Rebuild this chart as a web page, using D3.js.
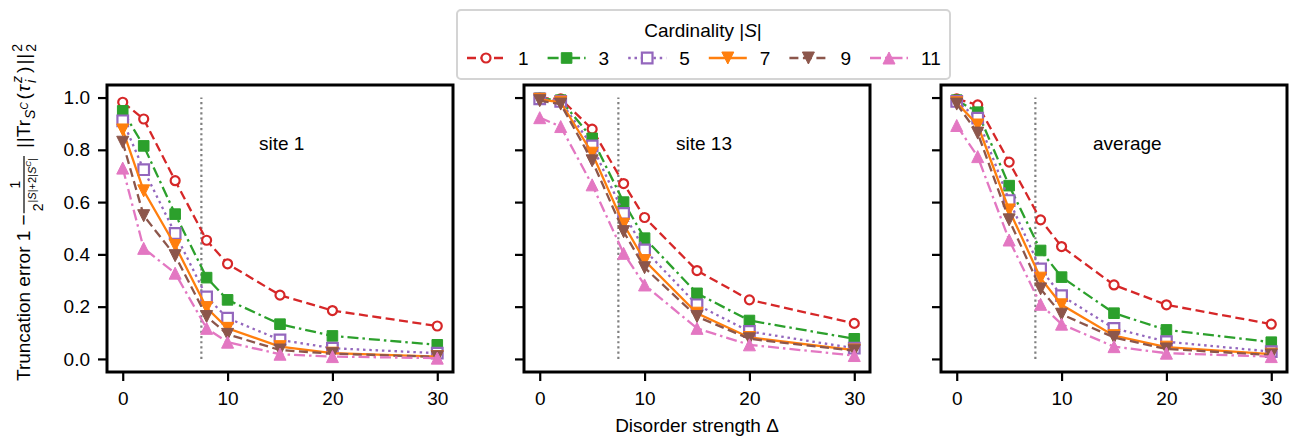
<!DOCTYPE html>
<html>
<head>
<meta charset="utf-8">
<script src="https://cdnjs.cloudflare.com/ajax/libs/d3/7.8.5/d3.min.js"></script>
<style>
    body { margin: 0; background: #fff; }
    svg text { font-family: "Liberation Sans", Arial, Helvetica, sans-serif; fill: #000; }
</style>
</head>
<body>
<div id="chart"></div>
<script>

// ---- data ----
const deltas = [0, 2, 5, 8, 10, 15, 20, 30];
const cardinalities = [1, 3, 5, 7, 9, 11];
const panelNames = ["site 1", "site 13", "average"];
const xTickValues = [0, 10, 20, 30];
const yTickValues = [0.0, 0.2, 0.4, 0.6, 0.8, 1.0];
const cutoffDelta = 7.5;

// one row per cardinality, one column per delta
const site1Errors = [
    [0.982, 0.918, 0.682, 0.454, 0.364, 0.244, 0.185, 0.126],
    [0.949, 0.815, 0.554, 0.311, 0.226, 0.133, 0.088, 0.054],
    [0.911, 0.724, 0.480, 0.237, 0.156, 0.073, 0.041, 0.022],
    [0.876, 0.643, 0.434, 0.196, 0.117, 0.047, 0.022, 0.009],
    [0.829, 0.548, 0.395, 0.162, 0.094, 0.034, 0.020, 0.008],
    [0.730, 0.423, 0.328, 0.117, 0.064, 0.018, 0.009, 0.003]
];
const site13Errors = [
    [0.998, 0.995, 0.879, 0.671, 0.541, 0.338, 0.226, 0.136],
    [0.997, 0.990, 0.844, 0.600, 0.462, 0.251, 0.147, 0.077],
    [0.995, 0.985, 0.815, 0.557, 0.417, 0.207, 0.105, 0.041],
    [0.993, 0.982, 0.787, 0.515, 0.376, 0.175, 0.082, 0.034],
    [0.988, 0.975, 0.758, 0.487, 0.349, 0.162, 0.077, 0.031],
    [0.923, 0.889, 0.666, 0.404, 0.283, 0.117, 0.054, 0.013]
];
const averageErrors = [
    [0.995, 0.972, 0.753, 0.532, 0.430, 0.283, 0.207, 0.133],
    [0.990, 0.944, 0.663, 0.415, 0.313, 0.175, 0.111, 0.064],
    [0.985, 0.921, 0.606, 0.344, 0.242, 0.117, 0.066, 0.028],
    [0.980, 0.895, 0.570, 0.309, 0.207, 0.089, 0.045, 0.018],
    [0.975, 0.864, 0.532, 0.268, 0.171, 0.082, 0.038, 0.015],
    [0.893, 0.774, 0.455, 0.209, 0.133, 0.047, 0.022, 0.009]
];

// ---- styling ----
const seriesStyles = [
    {color: "#d62728", dash: "9,4.5",        marker: "circle",  open: true},
    {color: "#2ca02c", dash: "11,4,2.5,4",   marker: "square",  open: false},
    {color: "#9467bd", dash: "2.5,3.8",      marker: "square",  open: true},
    {color: "#ff7f0e", dash: null,           marker: "tridown", open: false},
    {color: "#8c564b", dash: "9,4.5",        marker: "tridown", open: false},
    {color: "#e377c2", dash: "11,4,2.5,4",   marker: "triup",   open: false}
];

const fontSize = 19;
const lineWidth = 2.3;
const margin = {top: 85, left: 107};
const panelWidth = 346, panelHeight = 287, panelStep = 417;

const svg = d3.select("#chart").append("svg")
    .attr("width", 1293)
    .attr("height", 441);

const x = d3.scaleLinear().domain([-1.5, 31.5]).range([0, panelWidth]);
const y = d3.scaleLinear().domain([-0.05, 1.048]).range([panelHeight, 0]);

function markerPath(kind) {
    const s = 5.3;
    switch (kind) {
        case "circle":
            return d3.symbol(d3.symbolCircle, Math.PI * 4.5 * 4.5)();
        case "square":
            return "M" + (-s) + "," + (-s) + "H" + s + "V" + s + "H" + (-s) + "Z";
        case "tridown":
            return "M0," + (s + 0.7) + "L" + (-s - 0.7) + "," + (-s - 0.7) + "H" + (s + 0.7) + "Z";
        case "triup":
            return "M0," + (-s - 0.7) + "L" + (-s - 0.7) + "," + (s + 0.7) + "H" + (s + 0.7) + "Z";
    }
}

function drawMarker(sel, st) {
    sel.attr("d", markerPath(st.marker))
        .attr("fill", st.open ? "#fff" : st.color)
        .attr("stroke", st.color)
        .attr("stroke-width", st.open ? 2.2 : 1);
}


class ErrorPanel {

    constructor(index, name, values) {
        this.index = index;
        this.name = name;
        this.values = values;
        this.initVis();
    }

    initVis() {
        let vis = this;

        vis.svg = svg.append("g")
            .attr("transform", "translate(" + (margin.left + vis.index * panelStep) + "," + margin.top + ")");

        // cutoff marker at delta = 7.5
        vis.svg.append("line")
            .attr("x1", x(cutoffDelta)).attr("x2", x(cutoffDelta))
            .attr("y1", y(0)).attr("y2", y(1))
            .attr("stroke", "#808080")
            .attr("stroke-width", 2.2)
            .attr("stroke-dasharray", "2.2,3");

        vis.xAxis = d3.axisBottom(x).tickValues(xTickValues).tickSize(9).tickPadding(11)
            .tickFormat(d3.format("d"));
        vis.yAxis = d3.axisLeft(y).tickValues(yTickValues).tickSize(9).tickPadding(8)
            .tickFormat(vis.index === 0 ? d3.format(".1f") : "");

        vis.svg.append("g")
            .attr("class", "x-axis axis")
            .attr("transform", "translate(0," + panelHeight + ")")
            .call(vis.xAxis);
        vis.svg.append("g")
            .attr("class", "y-axis axis")
            .call(vis.yAxis);

        vis.svg.selectAll(".axis .domain").remove();
        vis.svg.selectAll(".axis line").attr("stroke", "#000").attr("stroke-width", 2.2);
        vis.svg.selectAll(".axis text").style("font-size", fontSize + "px").attr("fill", "#000");

        vis.svg.append("text")
            .attr("x", x(13))
            .attr("y", y(0.8))
            .style("font-size", fontSize + "px")
            .text(vis.name);

        vis.updateVis();

        vis.svg.append("rect")
            .attr("width", panelWidth)
            .attr("height", panelHeight)
            .attr("fill", "none")
            .attr("stroke", "#000")
            .attr("stroke-width", 3);
    }

    updateVis() {
        let vis = this;

        let line = d3.line()
            .x((d, i) => x(deltas[i]))
            .y(d => y(d));

        vis.values.forEach((row, k) => {
            let st = seriesStyles[k];
            let g = vis.svg.append("g").attr("class", "series");

            g.append("path")
                .datum(row)
                .attr("d", line)
                .attr("fill", "none")
                .attr("stroke", st.color)
                .attr("stroke-width", lineWidth)
                .attr("stroke-dasharray", st.dash);

            g.selectAll("path.mark")
                .data(row)
                .enter()
                .append("path")
                .attr("class", "mark")
                .attr("transform", (d, i) => "translate(" + x(deltas[i]) + "," + y(d) + ")")
                .call(drawMarker, st);
        });
    }
}

const panelData = [site1Errors, site13Errors, averageErrors];
panelNames.forEach((name, i) => new ErrorPanel(i, name, panelData[i]));

// x label under the middle panel
svg.append("text")
    .attr("x", margin.left + panelStep + panelWidth / 2)
    .attr("y", 432)
    .attr("text-anchor", "middle")
    .style("font-size", fontSize + "px")
    .text("Disorder strength \u0394");

// y label, built piece by piece to imitate the math text
function drawYLabel() {
    let g = svg.append("g").attr("transform", "translate(30,381) rotate(-90)");
    let cx = 0;

    function put(str, size, dy, italic) {
        let t = g.append("text")
            .attr("x", cx)
            .attr("y", dy)
            .style("font-size", size + "px")
            .text(str);
        if (italic) t.style("font-style", "italic");
        let w = t.node().getComputedTextLength();
        cx += w;
        return w;
    }

    put("Truncation error 1 \u2212 ", fontSize, 0);

    // fraction 1 / 2^{|S|+2|S^C|}
    let fracStart = cx + 1;
    cx = fracStart + 2;
    put("2", 14, 13);
    cx += 1;
    put("|", 11, 6);
    put("S", 11, 6, true);
    put("|+2|", 11, 6);
    put("S", 11, 6, true);
    put("C", 8, 1, true);
    put("|", 11, 6);
    let fracEnd = cx + 2;
    g.append("line")
        .attr("x1", fracStart).attr("x2", fracEnd)
        .attr("y1", -6).attr("y2", -6)
        .attr("stroke", "#000").attr("stroke-width", 1.2);
    g.append("text")
        .attr("x", (fracStart + fracEnd) / 2)
        .attr("y", -10)
        .attr("text-anchor", "middle")
        .style("font-size", "14px")
        .text("1");

    cx = fracEnd + 8;
    put("|", fontSize, 0);
    cx += 1;
    put("|Tr", fontSize, 0);
    cx += 1;
    put("S", 14, 5, true);
    put("C", 10, -2, true);
    cx += 3;
    put("(", fontSize, 0);
    cx += 1;
    put("\u03c4", fontSize, 0, true);
    cx += 2;
    let sx = cx;
    let wz = put("z", 14, -8, true);
    cx = sx;
    let wi = put("i", 14, 6, true);
    cx = sx + Math.max(wz, wi) + 3;
    put(")", fontSize, 0);
    cx += 2;
    put("|", fontSize, 0);
    cx += 1;
    put("|", fontSize, 0);
    cx += 2;
    sx = cx;
    put("2", 14, -8);
    cx = sx;
    put("2", 14, 6);
}
drawYLabel();

// legend
function drawLegend() {
    let lg = svg.append("g").attr("class", "legend");

    lg.append("rect")
        .attr("x", 457).attr("y", 10)
        .attr("width", 493).attr("height", 69)
        .attr("rx", 4)
        .attr("fill", "#fff")
        .attr("stroke", "#d4d4d4")
        .attr("stroke-width", 2);

    let title = lg.append("text")
        .attr("x", 703)
        .attr("y", 37)
        .attr("text-anchor", "middle")
        .style("font-size", fontSize + "px");
    title.append("tspan").text("Cardinality |");
    title.append("tspan").style("font-style", "italic").text("S");
    title.append("tspan").text("|");

    let items = lg.selectAll("g.item")
        .data(cardinalities)
        .enter()
        .append("g")
        .attr("class", "item")
        .attr("transform", (d, i) => "translate(" + (467 + i * 80.6) + ",58)");

    items.append("line")
        .attr("x1", 0).attr("x2", 38)
        .attr("stroke", (d, i) => seriesStyles[i].color)
        .attr("stroke-width", lineWidth)
        .attr("stroke-dasharray", (d, i) => seriesStyles[i].dash);

    items.append("path")
        .attr("transform", "translate(19,0)")
        .each(function (d, i) { d3.select(this).call(drawMarker, seriesStyles[i]); });

    items.append("text")
        .attr("x", 51)
        .attr("y", 7)
        .style("font-size", fontSize + "px")
        .text(d => d);
}
drawLegend();

</script>
</body>
</html>
